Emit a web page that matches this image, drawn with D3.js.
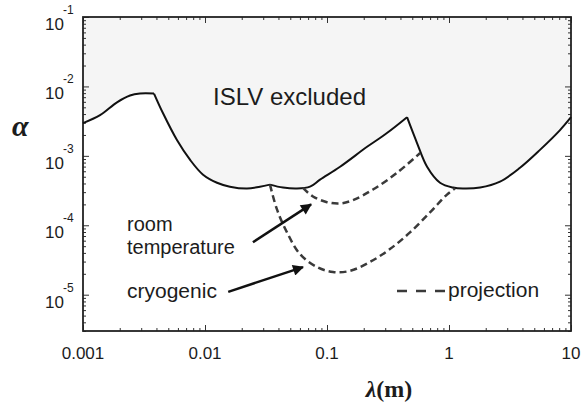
<!DOCTYPE html>
<html>
<head>
<meta charset="utf-8">
<script src="https://cdn.jsdelivr.net/npm/d3@7"></script>
<style>
  body { margin: 0; background: #fff; }
  text { font-family: "Liberation Sans", Arial, sans-serif; fill: #1c1c1c; }
  .serif { font-family: "Liberation Serif", "Times New Roman", serif; font-weight: bold; }
</style>
</head>
<body>
<svg id="chart" width="581" height="404"></svg>
<script>
// axis ticks
const xTicks = [0.001, 0.01, 0.1, 1, 10];
const xTickLabels = ["0.001", "0.01", "0.1", "1", "10"];
const yTicks = [1e-1, 1e-2, 1e-3, 1e-4, 1e-5];
const yExponents = ["-1", "-2", "-3", "-4", "-5"];

// ISLV exclusion boundary (lambda in m, alpha)
const boundaryLambda = [0.001, 0.00138, 0.0019, 0.00243, 0.00293, 0.00382,
  0.00453, 0.00589, 0.00753, 0.00964, 0.01254, 0.016, 0.0221, 0.0282, 0.0341,
  0.0436, 0.0568, 0.0726, 0.0877, 0.128, 0.213, 0.31, 0.453,
  0.547, 0.661, 0.844, 1.08, 1.3, 1.8, 2.62, 3.82, 5.57, 8.13, 10];
const boundaryAlpha = [2.96e-3, 3.85e-3, 5.9e-3, 7.4e-3, 7.9e-3, 7.9e-3,
  4.1e-3, 1.69e-3, 8.8e-4, 5.35e-4, 4.1e-4, 3.6e-4, 3.38e-4, 3.6e-4, 3.85e-4,
  3.49e-4, 3.38e-4, 3.6e-4, 4.54e-4, 6.97e-4, 1.35e-3, 2.13e-3, 3.6e-3,
  1.53e-3, 6.97e-4, 4.1e-4, 3.49e-4, 3.38e-4, 3.49e-4, 4.25e-4, 6.74e-4, 1.22e-3, 2.35e-3, 3.6e-3];
const kinks = [0.00382, 0.0341, 0.453]; // sharp corners in the boundary

// projections
const roomLambda = [0.0635, 0.0767, 0.1, 0.128, 0.163, 0.238, 0.375, 0.58];
const roomAlpha = [3.45e-4, 2.6e-4, 2.15e-4, 2.06e-4, 2.3e-4, 3.27e-4, 5.7e-4, 1.1e-3];
const cryoLambda = [0.0341, 0.0389, 0.047, 0.06, 0.0828, 0.112, 0.154, 0.225, 0.328, 0.479, 0.698, 0.963, 1.12];
const cryoAlpha = [3.85e-4, 1.69e-4, 7.9e-5, 3.85e-5, 2.5e-5, 2.13e-5, 2.2e-5, 2.96e-5, 4.54e-5, 7.9e-5, 1.53e-4, 2.77e-4, 3.4e-4];

const svg = d3.select("#chart");
const mLeft = 83, mRight = 571, mTop = 17, mBottom = 331;

const x = d3.scaleLog().domain([0.001, 10]).range([mLeft, mRight]);
const y = d3.scaleLog().domain([3e-6, 0.1]).range([mBottom, mTop]);

const line = d3.line()
  .x(d => x(d[0]))
  .y(d => y(d[1]))
  .curve(d3.curveCatmullRom.alpha(0.5));

// split the boundary at the kinks
let segments = [[]];
boundaryLambda.forEach((l, i) => {
  const p = [l, boundaryAlpha[i]];
  segments[segments.length - 1].push(p);
  if (kinks.includes(l)) segments.push([p]);
});

// excluded region
let fillPath = segments.map((s, i) => i ? line(s).replace(/^M/, "L") : line(s)).join("");
fillPath += "L" + mRight + "," + mTop + "L" + mLeft + "," + mTop + "Z";
svg.append("path").attr("d", fillPath).attr("fill", "#f5f5f5");

// minor ticks
const minorX = [], minorY = [];
[0.001, 0.01, 0.1, 1].forEach(d => { for (let k = 2; k < 10; k++) minorX.push(d * k); });
[1e-6, 1e-5, 1e-4, 1e-3, 1e-2].forEach(d => { for (let k = 2; k < 10; k++) if (d * k >= 3e-6) minorY.push(d * k); });

function styleAxis(g) {
  g.select(".domain").remove();
  g.selectAll("line").attr("stroke", "#333").attr("stroke-width", 1);
  g.selectAll("text").remove();
}

svg.append("g").attr("transform", `translate(0,${mBottom})`)
  .call(d3.axisBottom(x).tickValues(xTicks).tickSize(-6)).call(styleAxis);
svg.append("g").attr("transform", `translate(0,${mBottom})`)
  .call(d3.axisBottom(x).tickValues(minorX).tickSize(-3)).call(styleAxis);
svg.append("g").attr("transform", `translate(0,${mTop})`)
  .call(d3.axisTop(x).tickValues(xTicks).tickSize(-6)).call(styleAxis);
svg.append("g").attr("transform", `translate(0,${mTop})`)
  .call(d3.axisTop(x).tickValues(minorX).tickSize(-3)).call(styleAxis);
svg.append("g").attr("transform", `translate(${mLeft},0)`)
  .call(d3.axisLeft(y).tickValues(yTicks).tickSize(-6)).call(styleAxis);
svg.append("g").attr("transform", `translate(${mLeft},0)`)
  .call(d3.axisLeft(y).tickValues(minorY).tickSize(-3)).call(styleAxis);
svg.append("g").attr("transform", `translate(${mRight},0)`)
  .call(d3.axisRight(y).tickValues(yTicks).tickSize(-6)).call(styleAxis);
svg.append("g").attr("transform", `translate(${mRight},0)`)
  .call(d3.axisRight(y).tickValues(minorY).tickSize(-3)).call(styleAxis);

// frame
svg.append("rect")
  .attr("x", mLeft).attr("y", mTop)
  .attr("width", mRight - mLeft).attr("height", mBottom - mTop)
  .attr("fill", "none").attr("stroke", "#222").attr("stroke-width", 1.8);

// tick labels
svg.selectAll(".xlab").data(xTicks).enter().append("text")
  .attr("x", d => x(d)).attr("y", mBottom + 28)
  .attr("text-anchor", "middle").attr("font-size", 17)
  .text((d, i) => xTickLabels[i]);

const ylab = svg.selectAll(".ylab").data(yTicks).enter().append("g");
ylab.append("text")
  .attr("x", 64).attr("y", d => y(d) + 13)
  .attr("text-anchor", "end").attr("font-size", 17).text("10");
ylab.append("text")
  .attr("x", 63).attr("y", d => y(d) - 3)
  .attr("font-size", 12).text((d, i) => yExponents[i]);

// boundary line
segments.forEach(s => {
  svg.append("path").attr("d", line(s))
    .attr("fill", "none").attr("stroke", "#111").attr("stroke-width", 2);
});

// projection curves
[[roomLambda, roomAlpha], [cryoLambda, cryoAlpha]].forEach(([ls, as]) => {
  svg.append("path").attr("d", line(ls.map((l, i) => [l, as[i]])))
    .attr("fill", "none").attr("stroke", "#3a3a3a")
    .attr("stroke-width", 2.5).attr("stroke-dasharray", "7,4");
});

// arrows
svg.append("defs").append("marker")
  .attr("id", "head").attr("viewBox", "0 0 10 10")
  .attr("refX", 9).attr("refY", 5)
  .attr("markerWidth", 14).attr("markerHeight", 11)
  .attr("markerUnits", "userSpaceOnUse").attr("orient", "auto")
  .append("path").attr("d", "M0,0L10,5L0,10Z").attr("fill", "#111");

const arrows = [
  [[0.0247, 5.7e-5], [0.074, 2.0e-4]],
  [[0.0155, 1.1e-5], [0.0635, 2.5e-5]]
];
arrows.forEach(([a, b]) => {
  svg.append("line")
    .attr("x1", x(a[0])).attr("y1", y(a[1]))
    .attr("x2", x(b[0])).attr("y2", y(b[1]))
    .attr("stroke", "#111").attr("stroke-width", 2.5)
    .attr("marker-end", "url(#head)");
});

// annotations
svg.append("text").attr("x", 213).attr("y", 105).attr("font-size", 24).text("ISLV excluded");
svg.append("text").attr("x", 127).attr("y", 231).attr("font-size", 20).text("room");
svg.append("text").attr("x", 127).attr("y", 254).attr("font-size", 20).text("temperature");
svg.append("text").attr("x", 127).attr("y", 298).attr("font-size", 21).text("cryogenic");

svg.append("line").attr("x1", 397).attr("x2", 445).attr("y1", 291).attr("y2", 291)
  .attr("stroke", "#3a3a3a").attr("stroke-width", 2.5).attr("stroke-dasharray", "10,9");
svg.append("text").attr("x", 448).attr("y", 297).attr("font-size", 21).text("projection");

// axis titles
svg.append("text").attr("class", "serif").attr("x", 12).attr("y", 136)
  .attr("font-size", 30).attr("font-style", "italic").text("α");
const xt = svg.append("text").attr("class", "serif").attr("x", 389).attr("y", 397)
  .attr("text-anchor", "middle").attr("font-size", 24);
xt.append("tspan").attr("font-style", "italic").text("λ");
xt.append("tspan").text("(m)");
</script>
</body>
</html>
